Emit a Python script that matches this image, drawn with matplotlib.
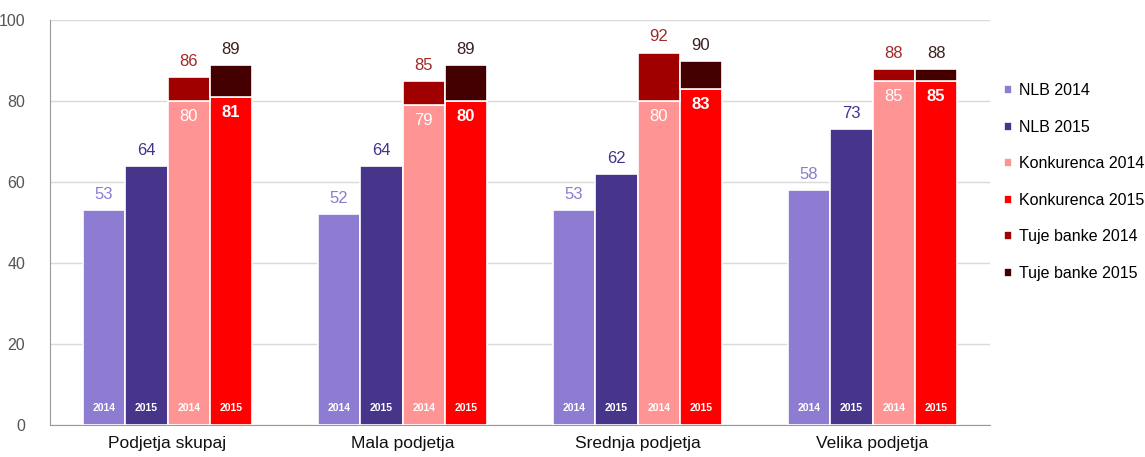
import numpy as np
import matplotlib
matplotlib.use('Agg')
import matplotlib.pyplot as plt

groups = ['Podjetja skupaj', 'Mala podjetja', 'Srednja podjetja', 'Velika podjetja']
nlb_2014 = [53, 52, 53, 58]
nlb_2015 = [64, 64, 62, 73]
konk_2014 = [80, 79, 80, 85]
konk_2015 = [81, 80, 83, 85]
# totals incl. foreign banks (label above the stacked bar)
tuje_2014 = [86, 85, 92, 88]
tuje_2015 = [89, 89, 90, 88]
yticks = [0, 20, 40, 60, 80, 100]

plt.rcParams['font.family'] = ['Liberation Sans', 'DejaVu Sans']

fig = plt.figure(figsize=(11.45, 4.57), dpi=100)
ax = fig.add_axes([0.0437, 0.07, 0.821, 0.886])

x = np.arange(len(groups))
w = 0.18
off = [-1.5 * w, -0.5 * w, 0.5 * w, 1.5 * w]

c_n14, c_n15 = '#8d7cd2', '#46358a'
c_k14, c_k15 = '#ff9494', '#ff0000'
c_t14, c_t15 = '#a00000', '#440000'

kw = dict(width=w, edgecolor='white', linewidth=1.2, zorder=3)
ax.bar(x + off[0], nlb_2014, color=c_n14, label='NLB 2014', **kw)
ax.bar(x + off[1], nlb_2015, color=c_n15, label='NLB 2015', **kw)
ax.bar(x + off[2], konk_2014, color=c_k14, label='Konkurenca 2014', **kw)
ax.bar(x + off[3], konk_2015, color=c_k15, label='Konkurenca 2015', **kw)
ax.bar(x + off[2], np.array(tuje_2014) - np.array(konk_2014), bottom=konk_2014,
       color=c_t14, label='Tuje banke 2014', **kw)
ax.bar(x + off[3], np.array(tuje_2015) - np.array(konk_2015), bottom=konk_2015,
       color=c_t15, label='Tuje banke 2015', **kw)

for i in range(len(groups)):
    ax.text(x[i] + off[0], nlb_2014[i] + 2, str(nlb_2014[i]), ha='center', va='bottom',
            fontsize=12, color='#8a7cd0')
    ax.text(x[i] + off[1], nlb_2015[i] + 2, str(nlb_2015[i]), ha='center', va='bottom',
            fontsize=12, color='#3f358a')
    ax.text(x[i] + off[2], tuje_2014[i] + 2, str(tuje_2014[i]), ha='center', va='bottom',
            fontsize=12, color='#a02a2a')
    ax.text(x[i] + off[3], tuje_2015[i] + 2, str(tuje_2015[i]), ha='center', va='bottom',
            fontsize=12, color='#3a2020')
    ax.text(x[i] + off[2], konk_2014[i] - 2, str(konk_2014[i]), ha='center', va='top',
            fontsize=12, color='white')
    ax.text(x[i] + off[3], konk_2015[i] - 2, str(konk_2015[i]), ha='center', va='top',
            fontsize=12, color='white', fontweight='bold')
    for j, yr in enumerate(['2014', '2015', '2014', '2015']):
        ax.text(x[i] + off[j], 4.3, yr, ha='center', va='center', fontsize=7.5,
                color='white', fontweight='bold', zorder=4)

ax.set_xlim(-0.5, len(groups) - 0.5)
ax.set_ylim(0, 100)
ax.set_yticks(yticks)
ax.set_xticks(x)
ax.set_xticklabels(groups, fontsize=12.5, color='#111111')
ax.tick_params(axis='y', length=0, labelsize=11.5, labelcolor='#555555', pad=18)
ax.tick_params(axis='x', length=0, pad=8)
ax.grid(axis='y', color='#d9d9d9', linewidth=1, zorder=0)
for s in ['top', 'right']:
    ax.spines[s].set_visible(False)
for s in ['left', 'bottom']:
    ax.spines[s].set_color('#999999')

ax.legend(loc='center left', bbox_to_anchor=(1.0, 0.6), frameon=False, fontsize=11.5,
          handlelength=0.5, handleheight=0.5, handletextpad=0.4, labelspacing=1.35)

fig.savefig('out.png', dpi=100)
